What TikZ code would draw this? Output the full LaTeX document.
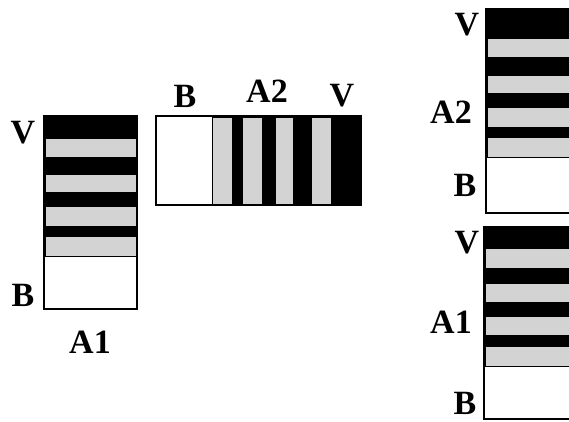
\documentclass[tikz,border=0pt]{standalone}
\usepackage{fontspec}
\setmainfont{Liberation Serif}
\definecolor{stripegray}{RGB}{211,211,211}
\tikzset{
  lbl/.style={font=\bfseries\fontsize{34}{36}\selectfont, inner sep=0pt, anchor=center},
  frame/.style={draw=black, line width=1.2pt},
  grayband/.style={fill=stripegray},
  blackband/.style={fill=black},
}
\begin{document}
\begin{tikzpicture}[x=1pt,y=-1pt]
\useasboundingbox (0,0) rectangle (569,421);
% ---- left vertical stack (A1)
\fill[blackband] (44,116) rectangle (137,256);
\foreach \a/\b in {139/157,175/192,207/226,237/256}
  \fill[grayband] (45.5,\a) rectangle (135.5,\b);
\fill[white] (44,256) rectangle (137,309);
\draw[frame] (44,116) rectangle (137,309);
\draw[line width=0.8pt] (44,256) -- (137,256);
\node[lbl] (lV) at (23,133) {V};
\node[lbl] (lB) at (23,295) {B};
\node[lbl] (lA) at (90,342) {A1};
% ---- horizontal stack (A2)
\fill[white] (156,116) rectangle (212,205);
\fill[blackband] (212,116) rectangle (361,205);
\foreach \a/\b in {212/232,243/262,276/293,312/331}
  \fill[grayband] (\a,117.5) rectangle (\b,203.5);
\draw[frame] (156,116) rectangle (361,205);
\draw[line width=0.8pt] (212,116) -- (212,205);
\node[lbl] (hB) at (185,96) {B};
\node[lbl] (hA) at (267,91) {A2};
\node[lbl] (hV) at (342,96) {V};
% ---- right stacks, clipped at the right edge
\begin{scope}
\clip (0,0) rectangle (569,421);
\fill[blackband] (486,9) rectangle (580,157);
\foreach \a/\b in {39/57,76/93,108/127,138/157}
  \fill[grayband] (487.5,\a) rectangle (580,\b);
\fill[white] (486,157) rectangle (580,213);
\draw[frame] (580,9) -- (486,9) -- (486,213) -- (580,213);
\draw[line width=0.8pt] (486,157) -- (580,157);
\fill[blackband] (484,227) rectangle (580,366);
\foreach \a/\b in {249/268,284/302,317/335,347/366}
  \fill[grayband] (485.5,\a) rectangle (580,\b);
\fill[white] (484,366) rectangle (580,419);
\draw[frame] (580,227) -- (484,227) -- (484,419) -- (580,419);
\draw[line width=0.8pt] (484,366) -- (580,366);
\end{scope}
\node[lbl] (tV) at (467,25) {V};
\node[lbl] (tA) at (451,112) {A2};
\node[lbl] (tB) at (465,185) {B};
\node[lbl] (bV) at (467,243) {V};
\node[lbl] (bA) at (451,322) {A1};
\node[lbl] (bB) at (465,403) {B};
\end{tikzpicture}
\end{document}
